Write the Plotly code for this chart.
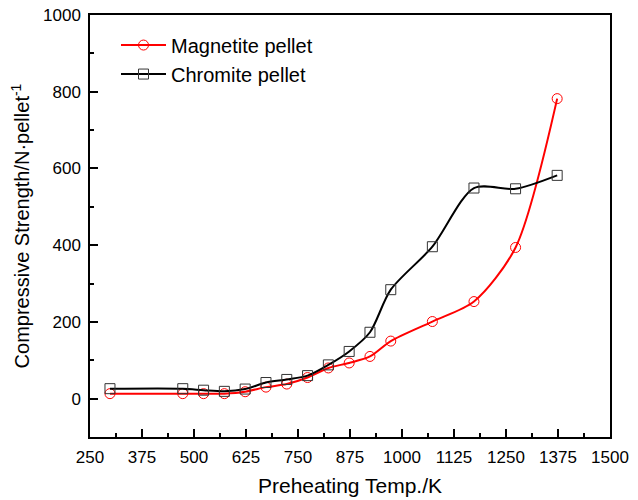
import plotly.graph_objects as go

temps = [298, 473, 523, 573, 623, 673, 723, 773, 823, 873, 923, 973, 1073, 1173, 1273, 1373]
magnetite = [13, 13, 13, 13, 18, 30, 38, 55, 80, 93, 110, 150, 201, 253, 394, 782]
chromite = [26, 26, 22, 19, 25, 42, 50, 60, 88, 123, 173, 284, 396, 549, 547, 582]

x_ticks = [250, 375, 500, 625, 750, 875, 1000, 1125, 1250, 1375, 1500]
y_ticks = [0, 200, 400, 600, 800, 1000]

FONT = "Liberation Sans, Arial, sans-serif"

fig = go.Figure()
fig.add_trace(go.Scatter(
    x=temps, y=magnetite, name="Magnetite pellet",
    mode="lines+markers",
    line=dict(color="#ff0000", width=2, shape="spline", smoothing=0.8),
    marker=dict(symbol="circle-open", size=10, color="#ff0000", line=dict(width=1)),
))
fig.add_trace(go.Scatter(
    x=temps, y=chromite, name="Chromite pellet",
    mode="lines+markers",
    line=dict(color="#000000", width=2, shape="spline", smoothing=0.8),
    marker=dict(symbol="square-open", size=10, color="#333333", line=dict(width=1)),
))

axis_common = dict(
    showline=True, linecolor="black", linewidth=1.5, mirror=True,
    ticks="inside", ticklen=8, tickwidth=1.5, tickcolor="black",
    showgrid=False, zeroline=False, automargin=False,
    tickfont=dict(family=FONT, size=17, color="black"),
    ticklabelstandoff=4,
)

fig.update_xaxes(
    range=[250, 1500], tickvals=x_ticks, ticktext=[str(v) for v in x_ticks],
    minor=dict(ticks="inside", ticklen=4, tickwidth=1.5, tickcolor="black", dtick=62.5, tick0=250),
    title=dict(text="Preheating Temp./K", font=dict(family=FONT, size=21, color="black"), standoff=12),
    **axis_common,
)
fig.update_yaxes(
    range=[-100, 1000], tickvals=y_ticks, ticktext=[str(v) for v in y_ticks],
    minor=dict(ticks="inside", ticklen=4, tickwidth=1.5, tickcolor="black", dtick=100, tick0=0),
    title=dict(text="Compressive Strength/N·pellet<sup>-1</sup>", font=dict(family=FONT, size=20, color="black"), standoff=8),
    **axis_common,
)

fig.update_layout(
    width=638, height=500,
    margin=dict(l=90, r=28, t=15, b=63, autoexpand=False),
    paper_bgcolor="white", plot_bgcolor="white",
    font=dict(family=FONT, color="black"),
    legend=dict(x=0.05, y=0.975, xanchor="left", yanchor="top",
                font=dict(family=FONT, size=20, color="black"),
                bgcolor="rgba(0,0,0,0)", tracegroupgap=0, itemwidth=45),
    showlegend=True,
)

fig.write_html("out.html")
